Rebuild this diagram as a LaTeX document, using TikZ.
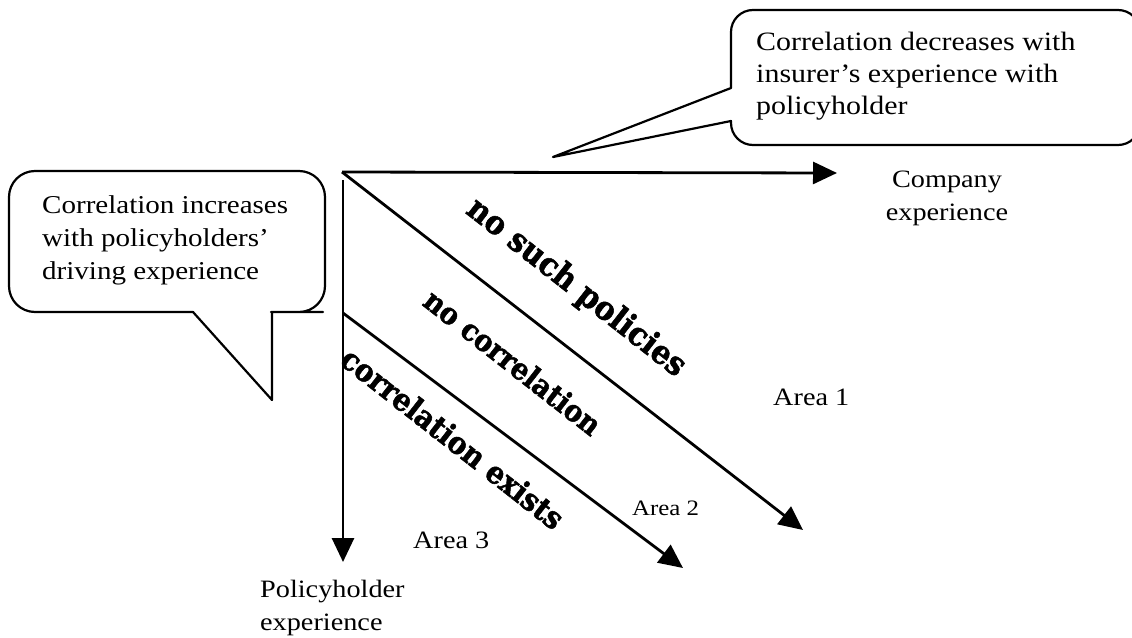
\documentclass[tikz,border=0pt]{standalone}
\usepackage{fontspec}
\setmainfont{Liberation Serif}[FakeStretch=1.13]
\newfontfamily\heavyfont{DejaVu Serif Bold}[FakeBold=1.6,FakeStretch=0.9]
\usetikzlibrary{arrows.meta}

\tikzset{
  axisarrow/.style={line width=2.8pt,-{Triangle[length=24pt,width=22pt]}},
  bubbleline/.style={line width=2.2pt,line join=round},
  bodytext/.style={font=\fontsize{25}{33}\selectfont,inner sep=0pt,align=left},
  zonetext/.style={font=\heavyfont\fontsize{#1}{#1}\selectfont,rotate=-38,inner sep=0pt},
  zonetext/.default=31
}

\begin{document}
\begin{tikzpicture}[x=1pt,y=-1pt]
\useasboundingbox (0,0) rectangle (1132,637);
% axes
\coordinate (O) at (342,172);
\coordinate (cxend) at (837,173);
\coordinate (vstart) at (343,180);
\coordinate (pyend) at (343,562);
\coordinate (dstart) at (343,313);
\coordinate (d1end) at (803,530);
\coordinate (d2end) at (683,568);
\draw[axisarrow] (O) -- (cxend);
\draw[axisarrow] (vstart) -- (pyend);
\draw[axisarrow] (O) -- (d1end);
\draw[axisarrow] (dstart) -- (d2end);
% callouts
\draw[bubbleline] (295,312) -- (272,312) -- (272,400) -- (193,312) -- (150,312) [rounded corners=26]
  -- (9,312) -- (9,171) -- (325,171) -- (325,312) -- (297,312) [sharp corners] -- cycle;
\draw[bubbleline] (553,157) -- (731,121) -- (731,123) [rounded corners=22] -- (731,145) -- (1140,145)
  -- (1140,10) -- (731,10) -- (731,60) [sharp corners] -- (731,88) -- cycle;
\node[bodytext,anchor=north west,font=\fontsize{25.7}{33}\selectfont] (incr) at (42,195) {Correlation increases\\with policyholders'\\driving experience};
\node[bodytext,anchor=north west,font=\fontsize{26.5}{32}\selectfont] (decr) at (756,32) {Correlation decreases with\\insurer's experience with\\policyholder};
% axis labels
\node[bodytext,anchor=north,align=center] (cxlab) at (947,171) {Company\\experience};
\node[bodytext,anchor=north west] (pylab) at (260,580) {Policyholder\\experience};
% areas
\foreach \n/\p/\s in {1/{773,405}/25, 2/{632,515}/22, 3/{413,548}/25}
  \node[anchor=base west,inner sep=0pt,font=\fontsize{\s}{\s}\selectfont] (area\n) at (\p) {Area \n};
\node[zonetext=33] (nosuch) at (576,288) {no such policies};
\node[zonetext=30] (nocorr) at (513,362) {no correlation};
\node[zonetext=31] (correx) at (453,438) {correlation exists};
\end{tikzpicture}
\end{document}
